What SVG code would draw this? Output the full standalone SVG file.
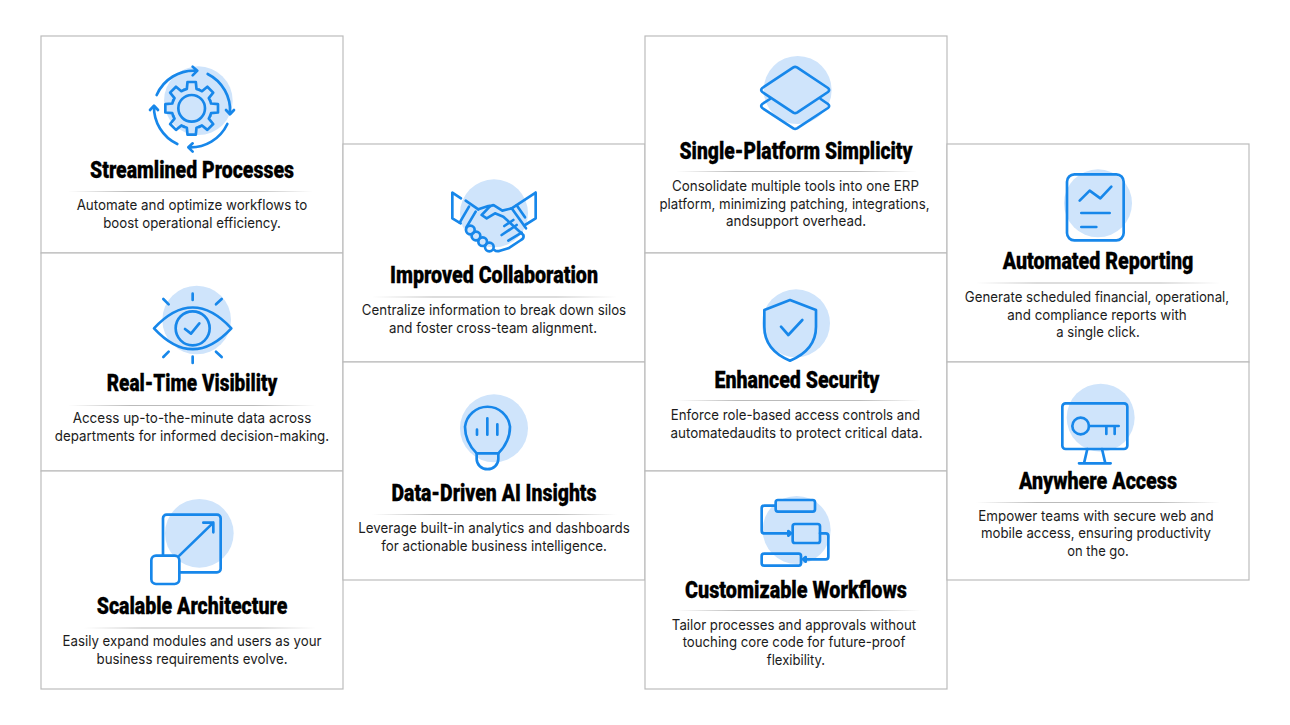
<svg xmlns="http://www.w3.org/2000/svg" width="1290" height="725" viewBox="0 0 1290 725">
<style>
.card{fill:#fff;stroke:#bcbcbc;stroke-width:1.2}
.t{font-family:"Roboto","Liberation Sans",sans-serif;font-weight:900;font-size:24px;fill:#000;stroke:#000;stroke-width:.3px;text-anchor:middle}
.b{font-family:"Inter","Liberation Sans",sans-serif;font-weight:400;font-size:14.5px;fill:#1c1c1c;text-anchor:middle}
.blob{fill:#cfe4fb}
.ic{fill:none;stroke:#1787ea;stroke-width:8;stroke-linecap:round;stroke-linejoin:round}
.dv{fill:url(#fade)}
</style>
<defs>
<linearGradient id="fade"><stop offset="0" stop-color="#bbb" stop-opacity="0"/><stop offset=".25" stop-color="#bbb"/><stop offset=".75" stop-color="#bbb"/><stop offset="1" stop-color="#bbb" stop-opacity="0"/></linearGradient>
<path id="tooth" d="M-23,-55.4L-14.5,-58.2L-12.5,-79L12.5,-79L14.5,-58.2L23,-55.4"/>
</defs>
<rect width="1290" height="725" fill="#fff"/>

<g id="streamlined-processes">
<rect class="card" x="41" y="36" width="302" height="217"/>
<g transform="translate(40,30) scale(.33333)">
<circle class="blob" cx="475" cy="212" r="103"/>
<g class="ic">
<g transform="translate(455,235)"><use href="#tooth"/><use href="#tooth" transform="rotate(45)"/><use href="#tooth" transform="rotate(90)"/><use href="#tooth" transform="rotate(135)"/><use href="#tooth" transform="rotate(180)"/><use href="#tooth" transform="rotate(225)"/><use href="#tooth" transform="rotate(270)"/><use href="#tooth" transform="rotate(315)"/><circle r="40"/></g>
<path d="M350,195A122,122 0 0 1 470,122M458,110L472,122L458,136"/>
<path d="M503,132A122,122 0 0 1 570,250M558,240L570,253L582,240"/>
<path d="M562,282A122,122 0 0 1 445,352M458,340L445,352L458,365"/>
<path d="M412,342A122,122 0 0 1 342,228M330,240L342,227L354,240"/>
</g></g>
<text class="t" x="192" y="178" textLength="204" lengthAdjust="spacingAndGlyphs">Streamlined Processes</text>
<rect class="dv" x="68" y="191" width="245" height="1"/>
<text class="b" x="192" y="209.5" textLength="230.7" lengthAdjust="spacingAndGlyphs">Automate and optimize workflows to</text>
<text class="b" x="192" y="227.5" textLength="177.7" lengthAdjust="spacingAndGlyphs">boost operational efficiency.</text>
</g>

<g id="real-time-visibility">
<rect class="card" x="41" y="253" width="302" height="218"/>
<g transform="translate(40,255) scale(.33333)">
<circle class="blob" cx="470" cy="195" r="103"/>
<g class="ic">
<path d="M342,220Q458,95 574,220Q458,345 342,220Z"/>
<circle cx="458" cy="220" r="51"/>
<path d="M435,222L453,236L478,205M458,116V135M458,305V324M370,132L386,148M545,132L528,148M386,290L370,306M528,290L545,306"/>
</g></g>
<text class="t" x="192" y="391" textLength="170.7" lengthAdjust="spacingAndGlyphs">Real-Time Visibility</text>
<rect class="dv" x="68" y="405" width="248" height="1"/>
<text class="b" x="192" y="423" textLength="238.7" lengthAdjust="spacingAndGlyphs">Access up-to-the-minute data across</text>
<text class="b" x="192" y="440.5" textLength="274.3" lengthAdjust="spacingAndGlyphs">departments for informed decision-making.</text>
</g>

<g id="scalable-architecture">
<rect class="card" x="41" y="471" width="302" height="218"/>
<g transform="translate(40,475) scale(.33333)">
<circle class="blob" cx="478" cy="175" r="103"/>
<g class="ic">
<rect x="369" y="119" width="173" height="173" rx="11"/>
<rect x="334" y="242" width="84" height="85" rx="14" fill="#fff"/>
<path d="M418,242L520,143M490,143H520V172"/>
</g></g>
<text class="t" x="192" y="614" textLength="190.7" lengthAdjust="spacingAndGlyphs">Scalable Architecture</text>
<rect class="dv" x="84" y="627.5" width="232" height="1"/>
<text class="b" x="192" y="646" textLength="259" lengthAdjust="spacingAndGlyphs">Easily expand modules and users as your</text>
<text class="b" x="192" y="663.5" textLength="191" lengthAdjust="spacingAndGlyphs">business requirements evolve.</text>
</g>

<g id="improved-collaboration">
<rect class="card" x="343" y="144" width="302" height="218"/>
<g transform="translate(445,180) scale(.33333)">
<circle class="blob" cx="147" cy="100" r="102"/>
<g class="ic">
<path d="M48,55L22,38V115L47,130"/>
<path d="M272,38V115L240,135M272,38L200,85"/>
<path d="M62,62L100,88M72,80L44,128M92,95L64,142"/>
<path d="M215,76L240,112M200,85L243,145"/>
<path d="M100,88L130,78L145,76M200,85L172,92L147,76Q140,74 132,82L110,105L125,115L150,100L175,110L235,165Q238,175 228,180L190,205L165,212Q155,216 148,210"/>
<path d="M170,165L215,135M190,182L230,158M178,138L205,120"/>
<circle cx="76" cy="150" r="13"/><circle cx="93" cy="168" r="13"/><circle cx="113" cy="185" r="13"/><circle cx="133" cy="201" r="13"/>
</g></g>
<text class="t" x="494" y="282.5" textLength="208" lengthAdjust="spacingAndGlyphs">Improved Collaboration</text>
<rect class="dv" x="372" y="296.5" width="245" height="1"/>
<text class="b" x="494" y="315" textLength="264.3" lengthAdjust="spacingAndGlyphs">Centralize information to break down silos</text>
<text class="b" x="493" y="332.5" textLength="208" lengthAdjust="spacingAndGlyphs">and foster cross-team alignment.</text>
</g>

<g id="data-driven-ai-insights">
<rect class="card" x="343" y="362" width="302" height="218"/>
<g transform="translate(345,365) scale(.33333)">
<circle class="blob" cx="447" cy="190" r="102"/>
<g class="ic">
<path d="M395,265C375,245 360,220 360,185A68,68 0 0 1 495,185C495,220 480,245 460,265"/>
<path d="M395,265H460V282A32,30 0 0 1 395,282Z"/>
<path d="M396,194V209M427,160V209M457,178V209"/>
</g></g>
<text class="t" x="494" y="500.5" textLength="205" lengthAdjust="spacingAndGlyphs">Data-Driven AI Insights</text>
<rect class="dv" x="372" y="514" width="245" height="1"/>
<text class="b" x="494" y="533" textLength="271.7" lengthAdjust="spacingAndGlyphs">Leverage built-in analytics and dashboards</text>
<text class="b" x="494" y="550.5" textLength="225.7" lengthAdjust="spacingAndGlyphs">for actionable business intelligence.</text>
</g>

<g id="single-platform-simplicity">
<rect class="card" x="645" y="36" width="302" height="217"/>
<g transform="translate(645,30) scale(.33333)">
<circle class="blob" cx="458" cy="180" r="102"/>
<g class="ic">
<path d="M375,207L352,222Q345,228 352,234L445,295Q450,298 456,295L549,234Q556,228 549,222L527,207"/>
<path d="M445,112Q450,109 456,112L549,174Q556,180 549,186L456,248Q450,251 445,248L352,186Q345,180 352,174Z"/>
</g></g>
<text class="t" x="796" y="158.5" textLength="233" lengthAdjust="spacingAndGlyphs">Single-Platform Simplicity</text>
<rect class="dv" x="676" y="171" width="241" height="1"/>
<text class="b" x="795.5" y="191" textLength="247" lengthAdjust="spacingAndGlyphs">Consolidate multiple tools into one ERP</text>
<text class="b" x="794.5" y="208.5" textLength="270" lengthAdjust="spacingAndGlyphs">platform, minimizing patching, integrations,</text>
<text class="b" x="796" y="226" textLength="140" lengthAdjust="spacingAndGlyphs">andsupport overhead.</text>
</g>

<g id="enhanced-security">
<rect class="card" x="645" y="253" width="302" height="218"/>
<g transform="translate(645,255) scale(.33333)">
<circle class="blob" cx="453" cy="205" r="102"/>
<g class="ic">
<path d="M435,135L513,165V215C513,265 480,298 435,317C390,298 358,265 358,215V165Z"/>
<path d="M408,215L430,240L472,195"/>
</g></g>
<text class="t" x="797" y="387.5" textLength="165" lengthAdjust="spacingAndGlyphs">Enhanced Security</text>
<rect class="dv" x="676" y="400" width="245" height="1"/>
<text class="b" x="795.5" y="420" textLength="249.3" lengthAdjust="spacingAndGlyphs">Enforce role-based access controls and</text>
<text class="b" x="796.5" y="437.5" textLength="252" lengthAdjust="spacingAndGlyphs">automatedaudits to protect critical data.</text>
</g>

<g id="customizable-workflows">
<rect class="card" x="645" y="471" width="302" height="218"/>
<g transform="translate(645,475) scale(.33333)">
<circle class="blob" cx="455" cy="165" r="102"/>
<g class="ic">
<rect x="392" y="75" width="118" height="35" rx="7"/>
<rect x="443" y="147" width="82" height="57" rx="7"/>
<rect x="350" y="236" width="118" height="36" rx="7"/>
<path d="M392,92H358Q350,92 350,100V167Q350,175 358,175H432"/>
<path d="M525,175H542Q550,175 550,183V245Q550,253 542,253H478"/>
<path d="M430,168L438,175L430,182Z" fill="#1787ea"/>
<path d="M482,246L474,253L482,260Z" fill="#1787ea"/>
</g></g>
<text class="t" x="796" y="597.5" textLength="222" lengthAdjust="spacingAndGlyphs">Customizable Workflows</text>
<rect class="dv" x="676" y="610" width="245" height="1"/>
<text class="b" x="794" y="629.5" textLength="244.3" lengthAdjust="spacingAndGlyphs">Tailor processes and approvals without</text>
<text class="b" x="794" y="647" textLength="222.7" lengthAdjust="spacingAndGlyphs">touching core code for future-proof</text>
<text class="b" x="796" y="665" textLength="58.3" lengthAdjust="spacingAndGlyphs">flexibility.</text>
</g>

<g id="automated-reporting">
<rect class="card" x="947" y="144" width="302" height="218"/>
<g transform="translate(948,145) scale(.33333)">
<circle class="blob" cx="450" cy="175" r="102"/>
<g class="ic">
<rect x="357" y="88" width="170" height="198" rx="22"/>
<path d="M395,167L425,137L457,160L490,125M400,204H485M400,246H445"/>
</g></g>
<text class="t" x="1098" y="269" textLength="190.7" lengthAdjust="spacingAndGlyphs">Automated Reporting</text>
<rect class="dv" x="976" y="282.5" width="244" height="1"/>
<text class="b" x="1097" y="302" textLength="264.3" lengthAdjust="spacingAndGlyphs">Generate scheduled financial, operational,</text>
<text class="b" x="1097" y="319.5" textLength="179.3" lengthAdjust="spacingAndGlyphs">and compliance reports with</text>
<text class="b" x="1098" y="337" textLength="83.3" lengthAdjust="spacingAndGlyphs">a single click.</text>
</g>

<g id="anywhere-access">
<rect class="card" x="947" y="362" width="302" height="218"/>
<g transform="translate(948,365) scale(.33333)">
<circle class="blob" cx="458" cy="158" r="102"/>
<g class="ic">
<rect x="343" y="115" width="195" height="137" rx="10"/>
<circle cx="398" cy="183" r="25"/>
<path d="M423,183H512M475,183V207M500,183V207M418,252L408,295M462,252L472,295M393,295H488"/>
</g></g>
<text class="t" x="1098" y="488.5" textLength="158" lengthAdjust="spacingAndGlyphs">Anywhere Access</text>
<rect class="dv" x="976" y="502" width="244" height="1"/>
<text class="b" x="1096" y="520.5" textLength="235.3" lengthAdjust="spacingAndGlyphs">Empower teams with secure web and</text>
<text class="b" x="1096" y="538" textLength="230" lengthAdjust="spacingAndGlyphs">mobile access, ensuring productivity</text>
<text class="b" x="1098" y="556" textLength="61.7" lengthAdjust="spacingAndGlyphs">on the go.</text>
</g>
</svg>
